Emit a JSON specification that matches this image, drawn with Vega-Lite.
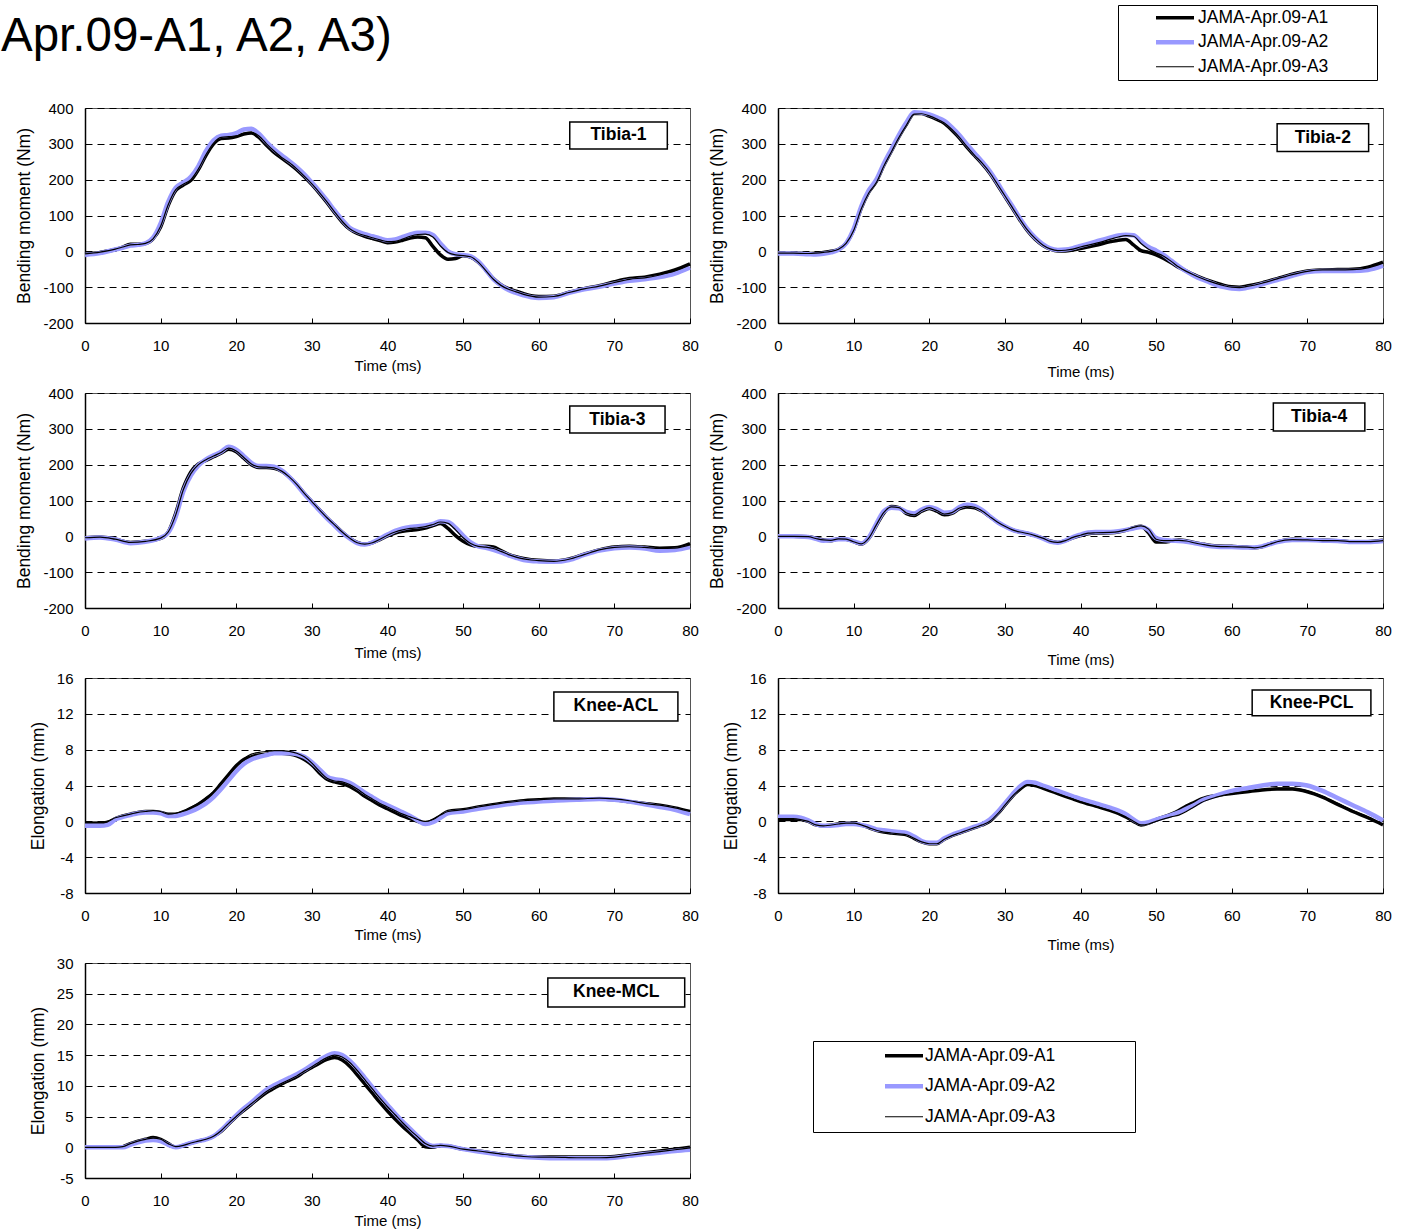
{
"$schema": "https://vega.github.io/schema/vega-lite/v6.json",
"padding": {"left": 0, "top": 4, "right": 0, "bottom": 0},
"autosize": {"type": "pad"},
"datasets": {
"T1": [
{"t":0,"A1":-8,"A2":-10,"A3":-7},{"t":2,"A1":-3,"A2":-5,"A3":-2},{"t":4,"A1":5,"A2":5,"A3":6},{"t":5,"A1":12,"A2":10,"A3":12},{"t":6,"A1":20,"A2":16,"A3":18},{"t":7,"A1":20,"A2":18,"A3":19},{"t":8,"A1":22,"A2":22,"A3":22},{"t":9,"A1":35,"A2":38,"A3":35},{"t":10,"A1":68,"A2":78,"A3":70},{"t":11,"A1":128,"A2":138,"A3":130},{"t":12,"A1":170,"A2":178,"A3":172},{"t":13,"A1":185,"A2":192,"A3":187},{"t":14,"A1":198,"A2":208,"A3":200},{"t":15,"A1":228,"A2":238,"A3":230},{"t":16,"A1":268,"A2":280,"A3":270},{"t":17,"A1":300,"A2":310,"A3":302},{"t":18,"A1":315,"A2":323,"A3":318},{"t":19,"A1":316,"A2":325,"A3":320},{"t":20,"A1":320,"A2":330,"A3":322},{"t":21,"A1":327,"A2":340,"A3":330},{"t":22,"A1":330,"A2":342,"A3":332},{"t":23,"A1":318,"A2":328,"A3":322},{"t":24,"A1":296,"A2":305,"A3":300},{"t":25,"A1":276,"A2":285,"A3":280},{"t":26,"A1":260,"A2":268,"A3":262},{"t":27,"A1":245,"A2":252,"A3":248},{"t":28,"A1":228,"A2":235,"A3":230},{"t":29,"A1":208,"A2":215,"A3":210},{"t":30,"A1":186,"A2":192,"A3":188},{"t":31,"A1":162,"A2":168,"A3":164},{"t":32,"A1":136,"A2":142,"A3":138},{"t":33,"A1":108,"A2":114,"A3":110},{"t":34,"A1":82,"A2":88,"A3":84},{"t":35,"A1":62,"A2":66,"A3":63},{"t":36,"A1":50,"A2":55,"A3":51},{"t":37,"A1":42,"A2":48,"A3":44},{"t":38,"A1":36,"A2":42,"A3":38},{"t":39,"A1":30,"A2":36,"A3":32},{"t":40,"A1":24,"A2":31,"A3":27},{"t":41,"A1":26,"A2":33,"A3":28},{"t":42,"A1":31,"A2":40,"A3":34},{"t":43,"A1":37,"A2":47,"A3":42},{"t":44,"A1":40,"A2":52,"A3":47},{"t":45,"A1":38,"A2":52,"A3":48},{"t":46,"A1":14,"A2":46,"A3":40},{"t":47,"A1":-10,"A2":22,"A3":15},{"t":48,"A1":-22,"A2":0,"A3":-3},{"t":49,"A1":-20,"A2":-8,"A3":-10},{"t":50,"A1":-12,"A2":-10,"A3":-12},{"t":51,"A1":-16,"A2":-14,"A3":-15},{"t":52,"A1":-30,"A2":-28,"A3":-30},{"t":53,"A1":-52,"A2":-52,"A3":-54},{"t":54,"A1":-76,"A2":-78,"A3":-78},{"t":55,"A1":-93,"A2":-95,"A3":-95},{"t":56,"A1":-104,"A2":-108,"A3":-106},{"t":57,"A1":-111,"A2":-116,"A3":-113},{"t":58,"A1":-118,"A2":-123,"A3":-120},{"t":59,"A1":-124,"A2":-128,"A3":-125},{"t":60,"A1":-126,"A2":-130,"A3":-128},{"t":62,"A1":-125,"A2":-128,"A3":-126},{"t":64,"A1":-114,"A2":-116,"A3":-115},{"t":66,"A1":-104,"A2":-106,"A3":-105},{"t":68,"A1":-96,"A2":-99,"A3":-97},{"t":70,"A1":-85,"A2":-90,"A3":-87},{"t":72,"A1":-76,"A2":-82,"A3":-78},{"t":74,"A1":-72,"A2":-78,"A3":-74},{"t":76,"A1":-64,"A2":-72,"A3":-66},{"t":78,"A1":-52,"A2":-62,"A3":-55},{"t":80,"A1":-35,"A2":-45,"A3":-38}
],
"T2": [
{"t":0,"A1":-5,"A2":-6,"A3":-5},{"t":2,"A1":-5,"A2":-6,"A3":-5},{"t":4,"A1":-6,"A2":-8,"A3":-6},{"t":5,"A1":-5,"A2":-9,"A3":-5},{"t":6,"A1":-3,"A2":-7,"A3":-3},{"t":7,"A1":0,"A2":-3,"A3":0},{"t":8,"A1":6,"A2":4,"A3":6},{"t":9,"A1":22,"A2":22,"A3":22},{"t":10,"A1":60,"A2":62,"A3":58},{"t":11,"A1":120,"A2":125,"A3":118},{"t":12,"A1":165,"A2":170,"A3":163},{"t":13,"A1":195,"A2":200,"A3":192},{"t":14,"A1":240,"A2":245,"A3":238},{"t":15,"A1":280,"A2":285,"A3":278},{"t":16,"A1":320,"A2":325,"A3":318},{"t":17,"A1":355,"A2":360,"A3":353},{"t":18,"A1":385,"A2":388,"A3":383},{"t":19,"A1":385,"A2":387,"A3":384},{"t":20,"A1":377,"A2":382,"A3":378},{"t":21,"A1":368,"A2":374,"A3":369},{"t":22,"A1":357,"A2":364,"A3":358},{"t":23,"A1":338,"A2":346,"A3":340},{"t":24,"A1":316,"A2":324,"A3":318},{"t":25,"A1":290,"A2":298,"A3":292},{"t":26,"A1":267,"A2":274,"A3":268},{"t":27,"A1":244,"A2":250,"A3":246},{"t":28,"A1":218,"A2":224,"A3":220},{"t":29,"A1":186,"A2":192,"A3":188},{"t":30,"A1":153,"A2":158,"A3":155},{"t":31,"A1":120,"A2":126,"A3":122},{"t":32,"A1":87,"A2":92,"A3":89},{"t":33,"A1":57,"A2":62,"A3":59},{"t":34,"A1":34,"A2":38,"A3":36},{"t":35,"A1":17,"A2":20,"A3":18},{"t":36,"A1":6,"A2":8,"A3":7},{"t":37,"A1":1,"A2":4,"A3":2},{"t":38,"A1":1,"A2":5,"A3":3},{"t":39,"A1":4,"A2":9,"A3":6},{"t":40,"A1":8,"A2":15,"A3":12},{"t":42,"A1":17,"A2":27,"A3":22},{"t":44,"A1":27,"A2":39,"A3":34},{"t":45,"A1":31,"A2":44,"A3":40},{"t":46,"A1":33,"A2":46,"A3":44},{"t":47,"A1":18,"A2":45,"A3":42},{"t":48,"A1":2,"A2":28,"A3":22},{"t":49,"A1":-3,"A2":12,"A3":6},{"t":50,"A1":-10,"A2":2,"A3":-4},{"t":51,"A1":-20,"A2":-10,"A3":-14},{"t":52,"A1":-32,"A2":-26,"A3":-28},{"t":53,"A1":-45,"A2":-42,"A3":-44},{"t":54,"A1":-55,"A2":-56,"A3":-56},{"t":55,"A1":-65,"A2":-68,"A3":-66},{"t":56,"A1":-74,"A2":-78,"A3":-75},{"t":57,"A1":-82,"A2":-86,"A3":-83},{"t":58,"A1":-89,"A2":-94,"A3":-90},{"t":59,"A1":-95,"A2":-100,"A3":-96},{"t":60,"A1":-99,"A2":-104,"A3":-100},{"t":61,"A1":-100,"A2":-105,"A3":-101},{"t":62,"A1":-97,"A2":-102,"A3":-98},{"t":64,"A1":-88,"A2":-92,"A3":-89},{"t":66,"A1":-76,"A2":-80,"A3":-77},{"t":68,"A1":-64,"A2":-68,"A3":-65},{"t":70,"A1":-55,"A2":-58,"A3":-56},{"t":72,"A1":-52,"A2":-55,"A3":-52},{"t":74,"A1":-51,"A2":-55,"A3":-52},{"t":76,"A1":-50,"A2":-55,"A3":-51},{"t":78,"A1":-44,"A2":-52,"A3":-46},{"t":80,"A1":-30,"A2":-40,"A3":-33}
],
"T3": [
{"t":0,"A1":-4,"A2":-6,"A3":-4},{"t":2,"A1":-2,"A2":-3,"A3":-2},{"t":4,"A1":-8,"A2":-9,"A3":-8},{"t":6,"A1":-17,"A2":-19,"A3":-17},{"t":8,"A1":-14,"A2":-15,"A3":-14},{"t":10,"A1":-6,"A2":-4,"A3":-5},{"t":11,"A1":12,"A2":10,"A3":12},{"t":12,"A1":65,"A2":55,"A3":60},{"t":13,"A1":135,"A2":125,"A3":130},{"t":14,"A1":180,"A2":170,"A3":175},{"t":15,"A1":202,"A2":198,"A3":200},{"t":16,"A1":212,"A2":215,"A3":214},{"t":17,"A1":222,"A2":226,"A3":224},{"t":18,"A1":232,"A2":236,"A3":234},{"t":19,"A1":243,"A2":250,"A3":246},{"t":20,"A1":236,"A2":242,"A3":238},{"t":21,"A1":218,"A2":224,"A3":220},{"t":22,"A1":200,"A2":205,"A3":202},{"t":23,"A1":192,"A2":196,"A3":194},{"t":24,"A1":192,"A2":196,"A3":193},{"t":25,"A1":190,"A2":194,"A3":191},{"t":26,"A1":182,"A2":184,"A3":182},{"t":27,"A1":166,"A2":166,"A3":166},{"t":28,"A1":145,"A2":144,"A3":145},{"t":29,"A1":120,"A2":118,"A3":120},{"t":30,"A1":97,"A2":95,"A3":97},{"t":31,"A1":74,"A2":72,"A3":74},{"t":32,"A1":52,"A2":50,"A3":52},{"t":33,"A1":32,"A2":30,"A3":32},{"t":34,"A1":12,"A2":10,"A3":12},{"t":35,"A1":-5,"A2":-6,"A3":-5},{"t":36,"A1":-17,"A2":-19,"A3":-18},{"t":37,"A1":-22,"A2":-23,"A3":-22},{"t":38,"A1":-18,"A2":-17,"A3":-18},{"t":39,"A1":-9,"A2":-6,"A3":-8},{"t":40,"A1":1,"A2":5,"A3":3},{"t":41,"A1":9,"A2":15,"A3":12},{"t":42,"A1":14,"A2":22,"A3":18},{"t":43,"A1":17,"A2":26,"A3":22},{"t":44,"A1":19,"A2":28,"A3":24},{"t":45,"A1":23,"A2":30,"A3":27},{"t":46,"A1":30,"A2":35,"A3":33},{"t":47,"A1":36,"A2":42,"A3":40},{"t":48,"A1":22,"A2":40,"A3":36},{"t":49,"A1":2,"A2":24,"A3":18},{"t":50,"A1":-14,"A2":2,"A3":-4},{"t":51,"A1":-24,"A2":-17,"A3":-20},{"t":52,"A1":-28,"A2":-28,"A3":-28},{"t":53,"A1":-28,"A2":-32,"A3":-30},{"t":54,"A1":-30,"A2":-38,"A3":-34},{"t":55,"A1":-40,"A2":-45,"A3":-42},{"t":56,"A1":-50,"A2":-53,"A3":-51},{"t":57,"A1":-57,"A2":-60,"A3":-58},{"t":58,"A1":-62,"A2":-66,"A3":-63},{"t":59,"A1":-65,"A2":-69,"A3":-66},{"t":60,"A1":-67,"A2":-70,"A3":-68},{"t":62,"A1":-69,"A2":-71,"A3":-70},{"t":64,"A1":-63,"A2":-66,"A3":-64},{"t":66,"A1":-50,"A2":-52,"A3":-51},{"t":68,"A1":-38,"A2":-40,"A3":-38},{"t":70,"A1":-30,"A2":-33,"A3":-31},{"t":72,"A1":-28,"A2":-31,"A3":-29},{"t":74,"A1":-30,"A2":-34,"A3":-31},{"t":76,"A1":-33,"A2":-40,"A3":-34},{"t":78,"A1":-32,"A2":-38,"A3":-33},{"t":80,"A1":-20,"A2":-30,"A3":-24}
],
"T4": [
{"t":0,"A1":0,"A2":0,"A3":0},{"t":2,"A1":0,"A2":0,"A3":0},{"t":4,"A1":-1,"A2":-2,"A3":-1},{"t":5,"A1":-5,"A2":-7,"A3":-6},{"t":6,"A1":-10,"A2":-12,"A3":-10},{"t":7,"A1":-12,"A2":-11,"A3":-11},{"t":8,"A1":-7,"A2":-8,"A3":-7},{"t":9,"A1":-8,"A2":-8,"A3":-8},{"t":10,"A1":-15,"A2":-14,"A3":-15},{"t":11,"A1":-22,"A2":-20,"A3":-21},{"t":12,"A1":-6,"A2":-3,"A3":-5},{"t":13,"A1":30,"A2":35,"A3":32},{"t":14,"A1":65,"A2":70,"A3":67},{"t":15,"A1":83,"A2":80,"A3":82},{"t":16,"A1":80,"A2":78,"A3":80},{"t":17,"A1":63,"A2":68,"A3":65},{"t":18,"A1":58,"A2":64,"A3":60},{"t":19,"A1":70,"A2":75,"A3":72},{"t":20,"A1":78,"A2":82,"A3":80},{"t":21,"A1":70,"A2":76,"A3":72},{"t":22,"A1":60,"A2":66,"A3":62},{"t":23,"A1":64,"A2":68,"A3":66},{"t":24,"A1":77,"A2":82,"A3":79},{"t":25,"A1":82,"A2":88,"A3":84},{"t":26,"A1":80,"A2":85,"A3":81},{"t":27,"A1":70,"A2":73,"A3":71},{"t":28,"A1":55,"A2":56,"A3":55},{"t":29,"A1":40,"A2":40,"A3":40},{"t":30,"A1":28,"A2":28,"A3":28},{"t":31,"A1":18,"A2":18,"A3":18},{"t":32,"A1":12,"A2":12,"A3":12},{"t":33,"A1":8,"A2":8,"A3":8},{"t":34,"A1":2,"A2":2,"A3":2},{"t":35,"A1":-5,"A2":-6,"A3":-5},{"t":36,"A1":-13,"A2":-15,"A3":-14},{"t":37,"A1":-17,"A2":-18,"A3":-17},{"t":38,"A1":-12,"A2":-12,"A3":-12},{"t":39,"A1":-4,"A2":-2,"A3":-3},{"t":40,"A1":2,"A2":5,"A3":3},{"t":41,"A1":7,"A2":11,"A3":9},{"t":42,"A1":9,"A2":12,"A3":10},{"t":44,"A1":10,"A2":12,"A3":11},{"t":45,"A1":12,"A2":14,"A3":13},{"t":46,"A1":17,"A2":18,"A3":18},{"t":47,"A1":24,"A2":22,"A3":25},{"t":48,"A1":28,"A2":26,"A3":29},{"t":49,"A1":10,"A2":18,"A3":20},{"t":50,"A1":-16,"A2":-5,"A3":-8},{"t":51,"A1":-16,"A2":-10,"A3":-12},{"t":52,"A1":-13,"A2":-12,"A3":-12},{"t":53,"A1":-10,"A2":-13,"A3":-11},{"t":54,"A1":-12,"A2":-15,"A3":-13},{"t":55,"A1":-17,"A2":-19,"A3":-18},{"t":56,"A1":-21,"A2":-23,"A3":-22},{"t":58,"A1":-27,"A2":-29,"A3":-28},{"t":60,"A1":-28,"A2":-30,"A3":-29},{"t":62,"A1":-30,"A2":-31,"A3":-30},{"t":63,"A1":-32,"A2":-31,"A3":-32},{"t":64,"A1":-29,"A2":-28,"A3":-29},{"t":65,"A1":-21,"A2":-22,"A3":-22},{"t":66,"A1":-15,"A2":-16,"A3":-15},{"t":68,"A1":-8,"A2":-10,"A3":-9},{"t":70,"A1":-10,"A2":-10,"A3":-10},{"t":72,"A1":-11,"A2":-12,"A3":-12},{"t":74,"A1":-12,"A2":-13,"A3":-12},{"t":76,"A1":-15,"A2":-16,"A3":-15},{"t":78,"A1":-15,"A2":-16,"A3":-15},{"t":80,"A1":-11,"A2":-13,"A3":-12}
],
"ACL": [
{"t":0,"A1":-0.2,"A2":-0.5,"A3":-0.1},{"t":2,"A1":-0.2,"A2":-0.5,"A3":-0.1},{"t":3,"A1":-0.1,"A2":-0.4,"A3":0},{"t":4,"A1":0.3,"A2":0.2,"A3":0.4},{"t":5,"A1":0.6,"A2":0.5,"A3":0.6},{"t":6,"A1":0.8,"A2":0.7,"A3":0.8},{"t":7,"A1":1.0,"A2":0.9,"A3":1.0},{"t":8,"A1":1.1,"A2":1.0,"A3":1.1},{"t":9,"A1":1.1,"A2":1.0,"A3":1.2},{"t":10,"A1":1.0,"A2":0.9,"A3":1.1},{"t":11,"A1":0.8,"A2":0.6,"A3":0.8},{"t":12,"A1":0.8,"A2":0.6,"A3":0.9},{"t":13,"A1":1.0,"A2":0.8,"A3":1.2},{"t":14,"A1":1.4,"A2":1.1,"A3":1.6},{"t":15,"A1":1.9,"A2":1.5,"A3":2.0},{"t":16,"A1":2.5,"A2":2.0,"A3":2.6},{"t":17,"A1":3.2,"A2":2.7,"A3":3.3},{"t":18,"A1":4.2,"A2":3.6,"A3":4.3},{"t":19,"A1":5.2,"A2":4.6,"A3":5.3},{"t":20,"A1":6.2,"A2":5.6,"A3":6.2},{"t":21,"A1":6.9,"A2":6.4,"A3":7.0},{"t":22,"A1":7.2,"A2":6.9,"A3":7.5},{"t":23,"A1":7.4,"A2":7.2,"A3":7.7},{"t":24,"A1":7.5,"A2":7.4,"A3":7.8},{"t":25,"A1":7.6,"A2":7.6,"A3":7.9},{"t":26,"A1":7.6,"A2":7.6,"A3":7.9},{"t":27,"A1":7.5,"A2":7.6,"A3":7.8},{"t":28,"A1":7.3,"A2":7.5,"A3":7.6},{"t":29,"A1":6.9,"A2":7.2,"A3":7.2},{"t":30,"A1":6.3,"A2":6.6,"A3":6.5},{"t":31,"A1":5.4,"A2":5.8,"A3":5.6},{"t":32,"A1":4.7,"A2":5.0,"A3":4.8},{"t":33,"A1":4.4,"A2":4.7,"A3":4.5},{"t":34,"A1":4.2,"A2":4.6,"A3":4.4},{"t":35,"A1":3.9,"A2":4.3,"A3":4.1},{"t":36,"A1":3.4,"A2":3.8,"A3":3.6},{"t":37,"A1":2.8,"A2":3.2,"A3":3.0},{"t":38,"A1":2.3,"A2":2.7,"A3":2.5},{"t":39,"A1":1.8,"A2":2.2,"A3":2.0},{"t":40,"A1":1.4,"A2":1.8,"A3":1.6},{"t":41,"A1":1.0,"A2":1.4,"A3":1.2},{"t":42,"A1":0.6,"A2":1.0,"A3":0.8},{"t":43,"A1":0.3,"A2":0.6,"A3":0.5},{"t":44,"A1":0.0,"A2":0.1,"A3":0.2},{"t":45,"A1":-0.2,"A2":-0.3,"A3":0.0},{"t":46,"A1":0.1,"A2":-0.1,"A3":0.2},{"t":47,"A1":0.6,"A2":0.4,"A3":0.7},{"t":48,"A1":1.1,"A2":0.9,"A3":1.1},{"t":50,"A1":1.3,"A2":1.1,"A3":1.3},{"t":52,"A1":1.6,"A2":1.4,"A3":1.6},{"t":55,"A1":2.0,"A2":1.8,"A3":2.0},{"t":58,"A1":2.3,"A2":2.1,"A3":2.3},{"t":60,"A1":2.4,"A2":2.2,"A3":2.4},{"t":62,"A1":2.5,"A2":2.3,"A3":2.5},{"t":65,"A1":2.5,"A2":2.4,"A3":2.5},{"t":68,"A1":2.5,"A2":2.5,"A3":2.6},{"t":70,"A1":2.4,"A2":2.4,"A3":2.5},{"t":72,"A1":2.2,"A2":2.2,"A3":2.3},{"t":74,"A1":2.0,"A2":1.9,"A3":2.0},{"t":76,"A1":1.8,"A2":1.6,"A3":1.8},{"t":78,"A1":1.5,"A2":1.3,"A3":1.5},{"t":80,"A1":1.1,"A2":0.8,"A3":1.1}
],
"PCL": [
{"t":0,"A1":0.2,"A2":0.5,"A3":0.3},{"t":2,"A1":0.2,"A2":0.5,"A3":0.3},{"t":3,"A1":0.2,"A2":0.4,"A3":0.2},{"t":4,"A1":0.0,"A2":0.1,"A3":0.0},{"t":5,"A1":-0.4,"A2":-0.3,"A3":-0.4},{"t":6,"A1":-0.5,"A2":-0.5,"A3":-0.5},{"t":8,"A1":-0.3,"A2":-0.4,"A3":-0.3},{"t":9,"A1":-0.2,"A2":-0.3,"A3":-0.2},{"t":10,"A1":-0.2,"A2":-0.3,"A3":-0.2},{"t":11,"A1":-0.4,"A2":-0.4,"A3":-0.4},{"t":12,"A1":-0.7,"A2":-0.6,"A3":-0.7},{"t":13,"A1":-1.0,"A2":-0.9,"A3":-1.0},{"t":14,"A1":-1.2,"A2":-1.0,"A3":-1.2},{"t":15,"A1":-1.3,"A2":-1.1,"A3":-1.3},{"t":16,"A1":-1.4,"A2":-1.2,"A3":-1.4},{"t":17,"A1":-1.5,"A2":-1.3,"A3":-1.5},{"t":18,"A1":-1.9,"A2":-1.7,"A3":-1.9},{"t":19,"A1":-2.3,"A2":-2.2,"A3":-2.3},{"t":20,"A1":-2.5,"A2":-2.4,"A3":-2.5},{"t":21,"A1":-2.5,"A2":-2.4,"A3":-2.5},{"t":22,"A1":-2.0,"A2":-1.9,"A3":-2.0},{"t":23,"A1":-1.6,"A2":-1.5,"A3":-1.6},{"t":24,"A1":-1.3,"A2":-1.2,"A3":-1.3},{"t":25,"A1":-1.0,"A2":-0.9,"A3":-1.0},{"t":26,"A1":-0.7,"A2":-0.6,"A3":-0.7},{"t":27,"A1":-0.4,"A2":-0.3,"A3":-0.4},{"t":28,"A1":0.0,"A2":0.2,"A3":0.0},{"t":29,"A1":0.8,"A2":1.0,"A3":0.8},{"t":30,"A1":1.8,"A2":2.0,"A3":1.8},{"t":31,"A1":2.8,"A2":3.0,"A3":2.8},{"t":32,"A1":3.6,"A2":3.9,"A3":3.6},{"t":33,"A1":4.1,"A2":4.4,"A3":4.1},{"t":34,"A1":4.0,"A2":4.3,"A3":4.0},{"t":35,"A1":3.7,"A2":4.0,"A3":3.7},{"t":36,"A1":3.4,"A2":3.7,"A3":3.4},{"t":37,"A1":3.1,"A2":3.4,"A3":3.1},{"t":38,"A1":2.8,"A2":3.1,"A3":2.8},{"t":39,"A1":2.5,"A2":2.8,"A3":2.5},{"t":40,"A1":2.2,"A2":2.5,"A3":2.2},{"t":42,"A1":1.7,"A2":2.0,"A3":1.7},{"t":44,"A1":1.2,"A2":1.5,"A3":1.2},{"t":45,"A1":0.9,"A2":1.2,"A3":0.9},{"t":46,"A1":0.5,"A2":0.8,"A3":0.5},{"t":47,"A1":0.0,"A2":0.2,"A3":0.0},{"t":48,"A1":-0.4,"A2":-0.2,"A3":-0.4},{"t":49,"A1":-0.2,"A2":-0.1,"A3":-0.3},{"t":50,"A1":0.2,"A2":0.2,"A3":0.0},{"t":52,"A1":0.8,"A2":0.7,"A3":0.5},{"t":53,"A1":1.2,"A2":1.0,"A3":0.7},{"t":54,"A1":1.7,"A2":1.4,"A3":1.1},{"t":55,"A1":2.1,"A2":1.8,"A3":1.6},{"t":56,"A1":2.5,"A2":2.3,"A3":2.1},{"t":58,"A1":2.9,"A2":2.9,"A3":2.7},{"t":60,"A1":3.1,"A2":3.4,"A3":3.1},{"t":62,"A1":3.3,"A2":3.7,"A3":3.3},{"t":64,"A1":3.5,"A2":4.0,"A3":3.5},{"t":66,"A1":3.6,"A2":4.2,"A3":3.7},{"t":68,"A1":3.6,"A2":4.2,"A3":3.7},{"t":70,"A1":3.3,"A2":4.0,"A3":3.4},{"t":72,"A1":2.7,"A2":3.4,"A3":2.8},{"t":74,"A1":1.9,"A2":2.6,"A3":2.0},{"t":76,"A1":1.1,"A2":1.8,"A3":1.2},{"t":78,"A1":0.4,"A2":1.0,"A3":0.5},{"t":80,"A1":-0.4,"A2":0.1,"A3":-0.3}
],
"MCL": [
{"t":0,"A1":0,"A2":0,"A3":0},{"t":2,"A1":0,"A2":0,"A3":0},{"t":4,"A1":0,"A2":0,"A3":0},{"t":5,"A1":0.1,"A2":0,"A3":0.1},{"t":6,"A1":0.6,"A2":0.4,"A3":0.6},{"t":7,"A1":1.0,"A2":0.8,"A3":1.0},{"t":8,"A1":1.3,"A2":1.1,"A3":1.3},{"t":9,"A1":1.6,"A2":1.2,"A3":1.5},{"t":10,"A1":1.3,"A2":1.0,"A3":1.3},{"t":11,"A1":0.6,"A2":0.4,"A3":0.6},{"t":12,"A1":0.0,"A2":0.0,"A3":0.1},{"t":13,"A1":0.3,"A2":0.3,"A3":0.3},{"t":14,"A1":0.7,"A2":0.7,"A3":0.7},{"t":15,"A1":1.0,"A2":1.0,"A3":1.0},{"t":16,"A1":1.3,"A2":1.3,"A3":1.3},{"t":17,"A1":1.8,"A2":1.8,"A3":1.8},{"t":18,"A1":2.6,"A2":2.8,"A3":2.7},{"t":19,"A1":3.8,"A2":4.0,"A3":3.9},{"t":20,"A1":5.0,"A2":5.2,"A3":5.0},{"t":21,"A1":6.0,"A2":6.3,"A3":6.1},{"t":22,"A1":7.0,"A2":7.3,"A3":7.1},{"t":23,"A1":8.0,"A2":8.4,"A3":8.1},{"t":24,"A1":8.9,"A2":9.4,"A3":9.1},{"t":25,"A1":9.6,"A2":10.1,"A3":9.8},{"t":26,"A1":10.3,"A2":10.7,"A3":10.4},{"t":27,"A1":10.9,"A2":11.3,"A3":11.0},{"t":28,"A1":11.5,"A2":11.9,"A3":11.6},{"t":29,"A1":12.3,"A2":12.6,"A3":12.4},{"t":30,"A1":13.0,"A2":13.4,"A3":13.1},{"t":31,"A1":13.7,"A2":14.2,"A3":13.9},{"t":32,"A1":14.3,"A2":14.9,"A3":14.6},{"t":33,"A1":14.6,"A2":15.3,"A3":15.0},{"t":34,"A1":14.2,"A2":15.0,"A3":14.7},{"t":35,"A1":13.2,"A2":14.1,"A3":13.8},{"t":36,"A1":11.8,"A2":12.8,"A3":12.5},{"t":37,"A1":10.3,"A2":11.3,"A3":11.0},{"t":38,"A1":8.8,"A2":9.8,"A3":9.5},{"t":39,"A1":7.3,"A2":8.3,"A3":8.0},{"t":40,"A1":5.9,"A2":6.9,"A3":6.6},{"t":41,"A1":4.6,"A2":5.5,"A3":5.3},{"t":42,"A1":3.4,"A2":4.2,"A3":4.0},{"t":43,"A1":2.3,"A2":3.0,"A3":2.8},{"t":44,"A1":1.2,"A2":1.8,"A3":1.7},{"t":45,"A1":0.1,"A2":0.7,"A3":0.6},{"t":46,"A1":0.0,"A2":0.2,"A3":0.2},{"t":47,"A1":0.3,"A2":0.3,"A3":0.3},{"t":48,"A1":0.2,"A2":0.2,"A3":0.2},{"t":50,"A1":-0.3,"A2":-0.3,"A3":-0.3},{"t":52,"A1":-0.6,"A2":-0.7,"A3":-0.6},{"t":55,"A1":-1.1,"A2":-1.2,"A3":-1.1},{"t":58,"A1":-1.5,"A2":-1.6,"A3":-1.5},{"t":60,"A1":-1.6,"A2":-1.7,"A3":-1.6},{"t":62,"A1":-1.6,"A2":-1.8,"A3":-1.6},{"t":65,"A1":-1.6,"A2":-1.8,"A3":-1.7},{"t":68,"A1":-1.6,"A2":-1.8,"A3":-1.7},{"t":70,"A1":-1.5,"A2":-1.7,"A3":-1.6},{"t":72,"A1":-1.2,"A2":-1.4,"A3":-1.3},{"t":74,"A1":-0.9,"A2":-1.1,"A3":-1.0},{"t":76,"A1":-0.6,"A2":-0.9,"A3":-0.7},{"t":78,"A1":-0.3,"A2":-0.6,"A3":-0.4},{"t":80,"A1":0.0,"A2":-0.4,"A3":-0.1}
]
},
"columns": 2,
"spacing": {"row": 70, "column": 88},
"bounds": "flush",
"resolve": {"scale": {"stroke": "independent", "strokeWidth": "independent"}, "legend": {"stroke": "independent", "strokeWidth": "independent"}},
"concat": [
{
"width": 605, "height": 215,
"title": {"text": "Apr.09-A1, A2, A3)", "anchor": "start", "frame": "group", "dx": -84, "fontSize": 47.5, "font": "Liberation Sans", "fontWeight": "normal", "color": "black", "baseline": "alphabetic", "offset": 3},
"layer": [
{"data": {"name": "T1"}, "transform": [{"fold": ["A1", "A2", "A3"], "as": ["s", "v"]}],
"mark": {"type": "line", "interpolate": "monotone"},
"encoding": {
"x": {"field": "t", "type": "quantitative", "scale": {"domain": [0, 80], "nice": false}, "axis": {"values": [0,10,20,30,40,50,60,70,80], "title": "Time (ms)", "titlePadding": 5}},
"y": {"field": "v", "type": "quantitative", "scale": {"domain": [-200, 400], "nice": false, "zero": false}, "axis": {"values": [-200,-100,0,100,200,300,400], "title": "Bending moment (Nm)", "labelExpr": "'' + datum.value"}},
"stroke": {"field": "s", "type": "nominal", "scale": {"domain": ["A1","A2","A3"], "range": ["#000000","#9999ff","#000000"]}, "legend": null},
"strokeWidth": {"field": "s", "type": "nominal", "scale": {"type": "ordinal", "domain": ["A1","A2","A3"], "range": [3.5, 4.5, 1.2]}, "legend": null}
}},
{"data": {"values": [{"label": "Tibia-1"}]}, "mark": {"type": "rect", "fill": "white", "stroke": "black", "strokeWidth": 1.5},
"encoding": {"x": {"datum": 64.1, "axis": {"values": [0,10,20,30,40,50,60,70,80], "title": "Time (ms)", "titlePadding": 5}}, "x2": {"datum": 77}, "y": {"datum": 361, "axis": {"values": [-200,-100,0,100,200,300,400], "title": "Bending moment (Nm)", "labelExpr": "'' + datum.value"}}, "y2": {"datum": 285.6}}},
{"data": {"values": [{"label": "Tibia-1"}]}, "mark": {"type": "text", "fontWeight": "bold", "fontSize": 17.5, "font": "Liberation Sans", "color": "black"},
"encoding": {"text": {"field": "label"}, "x": {"datum": 70.55, "axis": {"values": [0,10,20,30,40,50,60,70,80], "title": "Time (ms)", "titlePadding": 5}}, "y": {"datum": 323.3, "axis": {"values": [-200,-100,0,100,200,300,400], "title": "Bending moment (Nm)", "labelExpr": "'' + datum.value"}}}}
]
},
{
"width": 605, "height": 215,
"layer": [
{"data": {"name": "T2"}, "transform": [{"fold": ["A1", "A2", "A3"], "as": ["s", "v"]}],
"mark": {"type": "line", "interpolate": "monotone"},
"encoding": {
"x": {"field": "t", "type": "quantitative", "scale": {"domain": [0, 80], "nice": false}, "axis": {"values": [0,10,20,30,40,50,60,70,80], "title": "Time (ms)", "titlePadding": 11}},
"y": {"field": "v", "type": "quantitative", "scale": {"domain": [-200, 400], "nice": false, "zero": false}, "axis": {"values": [-200,-100,0,100,200,300,400], "title": "Bending moment (Nm)", "labelExpr": "'' + datum.value"}},
"stroke": {"field": "s", "type": "nominal", "scale": {"domain": ["A1","A2","A3"], "range": ["#000000","#9999ff","#000000"]},
 "legend": {"orient": "none", "legendX": 340, "legendY": -103, "title": null, "symbolType": "M-3.8,0L3.8,0", "symbolSize": 100, "labelFontSize": 17.5, "labelFont": "Liberation Sans", "labelColor": "black", "strokeColor": "black", "padding": 4, "rowPadding": 5.5, "symbolOffset": 44.25, "labelOffset": 14.25, "labelLimit": 600, "labelExpr": "'JAMA-Apr.09-' + datum.label + '         \u200b'"}},
"strokeWidth": {"field": "s", "type": "nominal", "scale": {"type": "ordinal", "domain": ["A1","A2","A3"], "range": [3.5, 4.5, 1.2]},
 "legend": {"orient": "none", "legendX": 340, "legendY": -103, "title": null, "symbolType": "M-3.8,0L3.8,0", "symbolSize": 100, "labelFontSize": 17.5, "labelFont": "Liberation Sans", "labelColor": "black", "strokeColor": "black", "padding": 4, "rowPadding": 5.5, "symbolOffset": 44.25, "labelOffset": 14.25, "labelLimit": 600, "labelExpr": "'JAMA-Apr.09-' + datum.label + '         \u200b'"}}
}},
{"data": {"values": [{"label": "Tibia-2"}]}, "mark": {"type": "rect", "fill": "white", "stroke": "black", "strokeWidth": 1.5},
"encoding": {"x": {"datum": 66.0, "axis": {"values": [0,10,20,30,40,50,60,70,80], "title": "Time (ms)", "titlePadding": 11}}, "x2": {"datum": 78.1}, "y": {"datum": 355.8, "axis": {"values": [-200,-100,0,100,200,300,400], "title": "Bending moment (Nm)", "labelExpr": "'' + datum.value"}}, "y2": {"datum": 278.3}}},
{"data": {"values": [{"label": "Tibia-2"}]}, "mark": {"type": "text", "fontWeight": "bold", "fontSize": 17.5, "font": "Liberation Sans", "color": "black"},
"encoding": {"text": {"field": "label"}, "x": {"datum": 72.05, "axis": {"values": [0,10,20,30,40,50,60,70,80], "title": "Time (ms)", "titlePadding": 11}}, "y": {"datum": 317, "axis": {"values": [-200,-100,0,100,200,300,400], "title": "Bending moment (Nm)", "labelExpr": "'' + datum.value"}}}}
]
},
{
"width": 605, "height": 215,
"layer": [
{"data": {"name": "T3"}, "transform": [{"fold": ["A1", "A2", "A3"], "as": ["s", "v"]}],
"mark": {"type": "line", "interpolate": "monotone"},
"encoding": {
"x": {"field": "t", "type": "quantitative", "scale": {"domain": [0, 80], "nice": false}, "axis": {"values": [0,10,20,30,40,50,60,70,80], "title": "Time (ms)", "titlePadding": 7}},
"y": {"field": "v", "type": "quantitative", "scale": {"domain": [-200, 400], "nice": false, "zero": false}, "axis": {"values": [-200,-100,0,100,200,300,400], "title": "Bending moment (Nm)", "labelExpr": "'' + datum.value"}},
"stroke": {"field": "s", "type": "nominal", "scale": {"domain": ["A1","A2","A3"], "range": ["#000000","#9999ff","#000000"]}, "legend": null},
"strokeWidth": {"field": "s", "type": "nominal", "scale": {"type": "ordinal", "domain": ["A1","A2","A3"], "range": [3.5, 4.5, 1.2]}, "legend": null}
}},
{"data": {"values": [{"label": "Tibia-3"}]}, "mark": {"type": "rect", "fill": "white", "stroke": "black", "strokeWidth": 1.5},
"encoding": {"x": {"datum": 64.1, "axis": {"values": [0,10,20,30,40,50,60,70,80], "title": "Time (ms)", "titlePadding": 7}}, "x2": {"datum": 76.7}, "y": {"datum": 363.7, "axis": {"values": [-200,-100,0,100,200,300,400], "title": "Bending moment (Nm)", "labelExpr": "'' + datum.value"}}, "y2": {"datum": 288.4}}},
{"data": {"values": [{"label": "Tibia-3"}]}, "mark": {"type": "text", "fontWeight": "bold", "fontSize": 17.5, "font": "Liberation Sans", "color": "black"},
"encoding": {"text": {"field": "label"}, "x": {"datum": 70.4, "axis": {"values": [0,10,20,30,40,50,60,70,80], "title": "Time (ms)", "titlePadding": 7}}, "y": {"datum": 326, "axis": {"values": [-200,-100,0,100,200,300,400], "title": "Bending moment (Nm)", "labelExpr": "'' + datum.value"}}}}
]
},
{
"width": 605, "height": 215,
"layer": [
{"data": {"name": "T4"}, "transform": [{"fold": ["A1", "A2", "A3"], "as": ["s", "v"]}],
"mark": {"type": "line", "interpolate": "monotone"},
"encoding": {
"x": {"field": "t", "type": "quantitative", "scale": {"domain": [0, 80], "nice": false}, "axis": {"values": [0,10,20,30,40,50,60,70,80], "title": "Time (ms)", "titlePadding": 14}},
"y": {"field": "v", "type": "quantitative", "scale": {"domain": [-200, 400], "nice": false, "zero": false}, "axis": {"values": [-200,-100,0,100,200,300,400], "title": "Bending moment (Nm)", "labelExpr": "'' + datum.value"}},
"stroke": {"field": "s", "type": "nominal", "scale": {"domain": ["A1","A2","A3"], "range": ["#000000","#9999ff","#000000"]}, "legend": null},
"strokeWidth": {"field": "s", "type": "nominal", "scale": {"type": "ordinal", "domain": ["A1","A2","A3"], "range": [3.5, 4.5, 1.2]}, "legend": null}
}},
{"data": {"values": [{"label": "Tibia-4"}]}, "mark": {"type": "rect", "fill": "white", "stroke": "black", "strokeWidth": 1.5},
"encoding": {"x": {"datum": 65.5, "axis": {"values": [0,10,20,30,40,50,60,70,80], "title": "Time (ms)", "titlePadding": 14}}, "x2": {"datum": 77.6}, "y": {"datum": 372, "axis": {"values": [-200,-100,0,100,200,300,400], "title": "Bending moment (Nm)", "labelExpr": "'' + datum.value"}}, "y2": {"datum": 294}}},
{"data": {"values": [{"label": "Tibia-4"}]}, "mark": {"type": "text", "fontWeight": "bold", "fontSize": 17.5, "font": "Liberation Sans", "color": "black"},
"encoding": {"text": {"field": "label"}, "x": {"datum": 71.55, "axis": {"values": [0,10,20,30,40,50,60,70,80], "title": "Time (ms)", "titlePadding": 14}}, "y": {"datum": 333, "axis": {"values": [-200,-100,0,100,200,300,400], "title": "Bending moment (Nm)", "labelExpr": "'' + datum.value"}}}}
]
},
{
"width": 605, "height": 215,
"layer": [
{"data": {"name": "ACL"}, "transform": [{"fold": ["A1", "A2", "A3"], "as": ["s", "v"]}],
"mark": {"type": "line", "interpolate": "monotone"},
"encoding": {
"x": {"field": "t", "type": "quantitative", "scale": {"domain": [0, 80], "nice": false}, "axis": {"values": [0,10,20,30,40,50,60,70,80], "title": "Time (ms)", "titlePadding": 4}},
"y": {"field": "v", "type": "quantitative", "scale": {"domain": [-8, 16], "nice": false, "zero": false}, "axis": {"values": [-8,-4,0,4,8,12,16], "title": "Elongation (mm)", "labelExpr": "'' + datum.value"}},
"stroke": {"field": "s", "type": "nominal", "scale": {"domain": ["A1","A2","A3"], "range": ["#000000","#9999ff","#000000"]}, "legend": null},
"strokeWidth": {"field": "s", "type": "nominal", "scale": {"type": "ordinal", "domain": ["A1","A2","A3"], "range": [3.5, 4.5, 1.2]}, "legend": null}
}},
{"data": {"values": [{"label": "Knee-ACL"}]}, "mark": {"type": "rect", "fill": "white", "stroke": "black", "strokeWidth": 1.5},
"encoding": {"x": {"datum": 62.0, "axis": {"values": [0,10,20,30,40,50,60,70,80], "title": "Time (ms)", "titlePadding": 4}}, "x2": {"datum": 78.4}, "y": {"datum": 14.44, "axis": {"values": [-8,-4,0,4,8,12,16], "title": "Elongation (mm)", "labelExpr": "'' + datum.value"}}, "y2": {"datum": 11.2}}},
{"data": {"values": [{"label": "Knee-ACL"}]}, "mark": {"type": "text", "fontWeight": "bold", "fontSize": 17.5, "font": "Liberation Sans", "color": "black"},
"encoding": {"text": {"field": "label"}, "x": {"datum": 70.2, "axis": {"values": [0,10,20,30,40,50,60,70,80], "title": "Time (ms)", "titlePadding": 4}}, "y": {"datum": 12.82, "axis": {"values": [-8,-4,0,4,8,12,16], "title": "Elongation (mm)", "labelExpr": "'' + datum.value"}}}}
]
},
{
"width": 605, "height": 215,
"layer": [
{"data": {"name": "PCL"}, "transform": [{"fold": ["A1", "A2", "A3"], "as": ["s", "v"]}],
"mark": {"type": "line", "interpolate": "monotone"},
"encoding": {
"x": {"field": "t", "type": "quantitative", "scale": {"domain": [0, 80], "nice": false}, "axis": {"values": [0,10,20,30,40,50,60,70,80], "title": "Time (ms)", "titlePadding": 14}},
"y": {"field": "v", "type": "quantitative", "scale": {"domain": [-8, 16], "nice": false, "zero": false}, "axis": {"values": [-8,-4,0,4,8,12,16], "title": "Elongation (mm)", "labelExpr": "'' + datum.value"}},
"stroke": {"field": "s", "type": "nominal", "scale": {"domain": ["A1","A2","A3"], "range": ["#000000","#9999ff","#000000"]}, "legend": null},
"strokeWidth": {"field": "s", "type": "nominal", "scale": {"type": "ordinal", "domain": ["A1","A2","A3"], "range": [3.5, 4.5, 1.2]}, "legend": null}
}},
{"data": {"values": [{"label": "Knee-PCL"}]}, "mark": {"type": "rect", "fill": "white", "stroke": "black", "strokeWidth": 1.5},
"encoding": {"x": {"datum": 62.7, "axis": {"values": [0,10,20,30,40,50,60,70,80], "title": "Time (ms)", "titlePadding": 14}}, "x2": {"datum": 78.4}, "y": {"datum": 14.67, "axis": {"values": [-8,-4,0,4,8,12,16], "title": "Elongation (mm)", "labelExpr": "'' + datum.value"}}, "y2": {"datum": 11.78}}},
{"data": {"values": [{"label": "Knee-PCL"}]}, "mark": {"type": "text", "fontWeight": "bold", "fontSize": 17.5, "font": "Liberation Sans", "color": "black"},
"encoding": {"text": {"field": "label"}, "x": {"datum": 70.55, "axis": {"values": [0,10,20,30,40,50,60,70,80], "title": "Time (ms)", "titlePadding": 14}}, "y": {"datum": 13.22, "axis": {"values": [-8,-4,0,4,8,12,16], "title": "Elongation (mm)", "labelExpr": "'' + datum.value"}}}}
]
},
{
"width": 605, "height": 215,
"layer": [
{"data": {"name": "MCL"}, "transform": [{"fold": ["A1", "A2", "A3"], "as": ["s", "v"]}],
"mark": {"type": "line", "interpolate": "monotone"},
"encoding": {
"x": {"field": "t", "type": "quantitative", "scale": {"domain": [0, 80], "nice": false}, "axis": {"values": [0,10,20,30,40,50,60,70,80], "title": "Time (ms)", "titlePadding": 5}},
"y": {"field": "v", "type": "quantitative", "scale": {"domain": [-5, 30], "nice": false, "zero": false}, "axis": {"values": [-5,0,5,10,15,20,25,30], "title": "Elongation (mm)", "labelExpr": "'' + datum.value"}},
"stroke": {"field": "s", "type": "nominal", "scale": {"domain": ["A1","A2","A3"], "range": ["#000000","#9999ff","#000000"]},
 "legend": {"orient": "none", "legendX": 728, "legendY": 78, "title": null, "symbolType": "M-3.8,0L3.8,0", "symbolSize": 100, "labelFontSize": 17.5, "labelFont": "Liberation Sans", "labelColor": "black", "strokeColor": "black", "padding": 6, "rowPadding": 11.5, "symbolOffset": 76.25, "labelOffset": 12.25, "labelLimit": 600, "labelExpr": "'JAMA-Apr.09-' + datum.label + '               \u200b'"}},
"strokeWidth": {"field": "s", "type": "nominal", "scale": {"type": "ordinal", "domain": ["A1","A2","A3"], "range": [3.5, 4.5, 1.2]},
 "legend": {"orient": "none", "legendX": 728, "legendY": 78, "title": null, "symbolType": "M-3.8,0L3.8,0", "symbolSize": 100, "labelFontSize": 17.5, "labelFont": "Liberation Sans", "labelColor": "black", "strokeColor": "black", "padding": 6, "rowPadding": 11.5, "symbolOffset": 76.25, "labelOffset": 12.25, "labelLimit": 600, "labelExpr": "'JAMA-Apr.09-' + datum.label + '               \u200b'"}}
}},
{"data": {"values": [{"label": "Knee-MCL"}]}, "mark": {"type": "rect", "fill": "white", "stroke": "black", "strokeWidth": 1.5},
"encoding": {"x": {"datum": 61.2, "axis": {"values": [0,10,20,30,40,50,60,70,80], "title": "Time (ms)", "titlePadding": 5}}, "x2": {"datum": 79.3}, "y": {"datum": 27.56, "axis": {"values": [-5,0,5,10,15,20,25,30], "title": "Elongation (mm)", "labelExpr": "'' + datum.value"}}, "y2": {"datum": 22.84}}},
{"data": {"values": [{"label": "Knee-MCL"}]}, "mark": {"type": "text", "fontWeight": "bold", "fontSize": 17.5, "font": "Liberation Sans", "color": "black"},
"encoding": {"text": {"field": "label"}, "x": {"datum": 70.25, "axis": {"values": [0,10,20,30,40,50,60,70,80], "title": "Time (ms)", "titlePadding": 5}}, "y": {"datum": 25.2, "axis": {"values": [-5,0,5,10,15,20,25,30], "title": "Elongation (mm)", "labelExpr": "'' + datum.value"}}}}
]
}
],
"config": {
"view": {"stroke": "#555555", "strokeWidth": 1},
"font": "Liberation Sans",
"axis": {"labelFont": "Liberation Sans", "titleFont": "Liberation Sans", "labelColor": "black", "titleColor": "black", "domainColor": "black", "tickColor": "black", "gridColor": "black", "gridDash": [7, 5], "gridWidth": 1, "gridOpacity": 1, "titleFontWeight": "normal", "labelFlush": false, "labelOverlap": false},
"axisX": {"labelFontSize": 15, "titleFontSize": 15, "tickSize": -5, "tickWidth": 1, "labelPadding": 20, "domainWidth": 1.5, "grid": false},
"axisY": {"labelFontSize": 15, "titleFontSize": 17.5, "ticks": false, "labelPadding": 12, "titlePadding": 9, "domainWidth": 1.5, "grid": true}
}
}
